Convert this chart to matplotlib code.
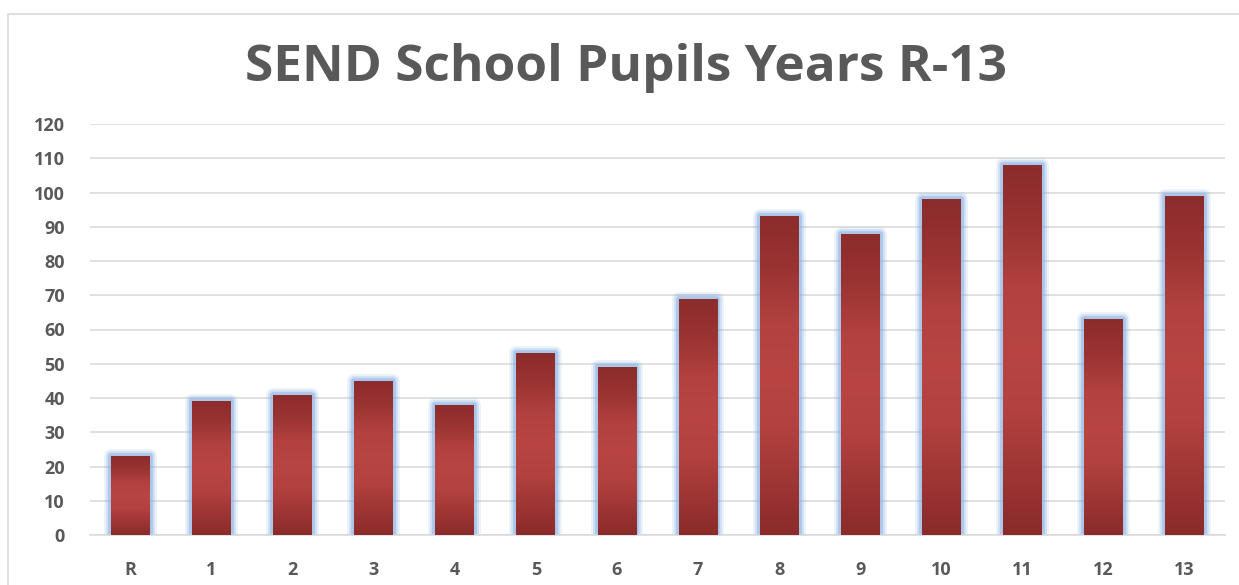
import numpy as np
import matplotlib
matplotlib.use("Agg")
import matplotlib.pyplot as plt
from matplotlib.patches import Rectangle
from matplotlib.colors import LinearSegmentedColormap

categories = ["R", "1", "2", "3", "4", "5", "6", "7", "8", "9", "10", "11", "12", "13"]
pupils = [23, 39, 41, 45, 38, 53, 49, 69, 93, 88, 98, 108, 63, 99]
yticks = [0, 10, 20, 30, 40, 50, 60, 70, 80, 90, 100, 110, 120]
title = "SEND School Pupils Years R-13"

plt.rcParams['font.family'] = ['Open Sans', 'DejaVu Sans']

fig = plt.figure(figsize=(12.39, 5.85), dpi=100)
fig.patch.set_facecolor("white")
# outer chart frame
fig.add_artist(Rectangle((8/1239, -0.05), 1.1, 1 - 14/585 + 0.05, transform=fig.transFigure,
                         fill=False, edgecolor="#d9d9d9", linewidth=1.2))

ax = fig.add_axes([90/1239, 1 - 535/585, (1225 - 90)/1239, (535 - 124)/585])
x = np.arange(len(categories))
w = 0.48

cmap = LinearSegmentedColormap.from_list("bar", ["#8a2b2b", "#9e3634", "#b3413f", "#b84542", "#b3413f", "#9a3432", "#8c2c2c"])
grad = np.linspace(0, 1, 256).reshape(-1, 1)

for xi, v in zip(x, pupils):
    # glow
    for lw, a in [(10, 0.15), (7, 0.25), (4, 0.45)]:
        ax.add_patch(Rectangle((xi - w/2, 0), w, v, fill=False, edgecolor="#7fa9df",
                               linewidth=lw, alpha=a, zorder=2, joinstyle="round"))
    bar = ax.bar(xi, v, width=w, color="#a33a38", zorder=3)[0]
    im = ax.imshow(grad, cmap=cmap, aspect="auto", extent=(xi - w/2, xi + w/2, 0, v),
                   origin="lower", zorder=4)
    im.set_clip_path(bar)

ax.set_xlim(-0.5, len(categories) - 0.5)
ax.set_ylim(0, 120)

ax.set_yticks(yticks)
ax.set_xticks(x)
ax.set_xticklabels(categories)
ax.yaxis.grid(True, color="#d9d9d9", linewidth=1.1, zorder=0)
ax.set_axisbelow(True)
for s in ["top", "right", "left"]:
    ax.spines[s].set_visible(False)
ax.spines["bottom"].set_color("#d9d9d9")
ax.spines["bottom"].set_linewidth(1.1)
ax.tick_params(axis="both", length=0, labelsize=13, labelcolor="#595959")
ax.tick_params(axis="y", pad=18)
ax.tick_params(axis="x", pad=19)
for lab in ax.get_xticklabels() + ax.get_yticklabels():
    lab.set_fontweight("bold")

fig.text(0.5 + 6/1239, 1 - 68/585, title, ha="center", va="center", fontsize=37,
         fontweight="bold", color="#595959")

fig.savefig("out.png", dpi=100, facecolor="white")
